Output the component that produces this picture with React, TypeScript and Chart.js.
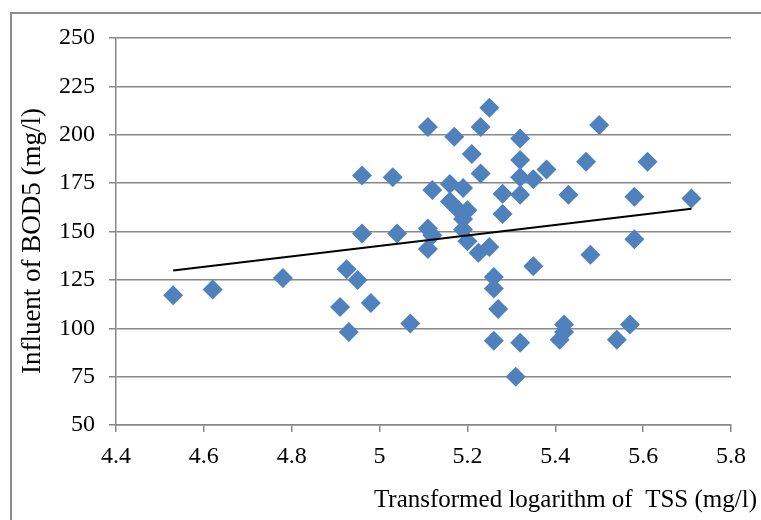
import React, { useEffect, useRef } from "react";
import { Chart, registerables } from "chart.js";

Chart.register(...registerables);

// Transformed logarithm of TSS (x) vs Influent BOD5 (y)
const tssLog: number[] = [
  4.53, 4.62, 4.78, 4.91, 4.925, 4.95, 4.93, 4.98, 4.96, 4.96,
  5.03, 5.04, 5.07, 5.11, 5.11, 5.12, 5.11, 5.12, 5.16, 5.17,
  5.16, 5.18, 5.2, 5.19, 5.19, 5.19, 5.2, 5.21, 5.23, 5.23,
  5.225, 5.25, 5.25, 5.26, 5.26, 5.27, 5.26, 5.28, 5.28, 5.31,
  5.32, 5.32, 5.32, 5.32, 5.32, 5.35, 5.35, 5.38, 5.43, 5.47,
  5.48, 5.5, 5.42, 5.42, 5.41, 5.54, 5.57, 5.58, 5.58, 5.61,
  5.71,
];
const bod5: number[] = [
  117, 120, 126, 111, 130.5, 125, 98, 113, 179, 149,
  178, 149, 102.5, 204, 151.5, 148, 141, 171.5, 174.5, 199,
  165.5, 161, 161, 172.5, 156.5, 151, 145, 190, 204, 180,
  139, 214, 142, 126.5, 120.5, 110, 93.5, 169.5, 159, 75,
  198, 187, 178, 169, 92.5, 177, 132, 182, 169, 186,
  138, 205, 102, 98, 94, 94, 102, 168, 146, 186,
  167,
];
const trendX: number[] = [4.53, 5.71];
const trendY: number[] = [129.8, 161.7];

const xTitle = "Transformed logarithm of  TSS (mg/l)";
const yTitle = "Influent of BOD5 (mg/l)";

const FONT = '"Liberation Serif", "Times New Roman", serif';
const GRID = "#888888";

export default function App() {
  const ref = useRef<HTMLCanvasElement | null>(null);

  useEffect(() => {
    if (!ref.current) return;
    const titlePlugin = {
      id: "titles",
      afterDraw(chart: any) {
        const ctx = chart.ctx;
        ctx.save();
        ctx.fillStyle = "#000";
        ctx.font = `25px ${FONT}`;
        ctx.textAlign = "right";
        ctx.textBaseline = "middle";
        ctx.fillText(xTitle, 757, 500);
        ctx.font = `27px ${FONT}`;
        ctx.translate(33, 241);
        ctx.rotate(-Math.PI / 2);
        ctx.textAlign = "center";
        ctx.fillText(yTitle, 0, 0);
        ctx.restore();
      },
    };
    const chart = new Chart(ref.current, {
      type: "scatter",
      data: {
        datasets: [
          {
            type: "line",
            data: trendX.map((x, i) => ({ x, y: trendY[i] })),
            borderColor: "#000000",
            borderWidth: 2,
            pointRadius: 0,
            fill: false,
            order: 0,
          } as any,
          {
            data: tssLog.map((x, i) => ({ x, y: bod5[i] })),
            pointStyle: "rectRot",
            pointRadius: 10,
            backgroundColor: "#4F81BD",
            borderColor: "#4F81BD",
            borderWidth: 0,
            order: 1,
          },
        ],
      },
      options: {
        animation: false,
        responsive: false,
        events: [],
        layout: { padding: { left: 0, top: 38, right: 30, bottom: 0 } },
        plugins: {
          legend: { display: false },
          tooltip: { enabled: false },
        },
        scales: {
          x: {
            type: "linear",
            min: 4.4,
            max: 5.8,
            afterFit: (s: any) => {
              s.height = 95;
            },
            afterBuildTicks: (s: any) => {
              const t = [];
              for (let i = 0; i <= 7; i++) t.push({ value: Math.round((4.4 + i * 0.2) * 10) / 10 });
              s.ticks = t;
            },
            ticks: {
              color: "#000",
              font: { family: FONT, size: 24 },
              padding: 10,
              maxRotation: 0,
              autoSkip: false,
              callback: (v: any) => String(Math.round(Number(v) * 10) / 10),
            },
            grid: {
              drawOnChartArea: false,
              drawTicks: true,
              tickLength: 7,
              color: GRID,
              lineWidth: 1.5,
            },
            border: { display: true, color: GRID, width: 1.5 },
          },
          y: {
            type: "linear",
            min: 50,
            max: 250,
            afterFit: (s: any) => {
              s.width = 116;
            },
            ticks: {
              stepSize: 25,
              color: "#000",
              font: { family: FONT, size: 24 },
              padding: 14,
            },
            grid: {
              drawOnChartArea: true,
              drawTicks: true,
              tickLength: 7,
              color: GRID,
              lineWidth: 1.5,
            },
            border: { display: true, color: GRID, width: 1.5 },
          },
        },
      },
      plugins: [titlePlugin],
    });
    return () => chart.destroy();
  }, []);

  return (
    <div
      style={{
        position: "fixed",
        left: 0,
        top: 0,
        width: 761,
        height: 520,
        overflow: "hidden",
        background: "#fff",
      }}
    >
      <div
        style={{
          position: "absolute",
          left: 10,
          top: 12,
          width: 800,
          height: 600,
          borderLeft: "2px solid #8c8c8c",
          borderTop: "2px solid #8c8c8c",
        }}
      />
      <canvas
        ref={ref}
        width={761}
        height={520}
        style={{ position: "absolute", left: 0, top: 0, width: 761, height: 520 }}
      />
    </div>
  );
}
